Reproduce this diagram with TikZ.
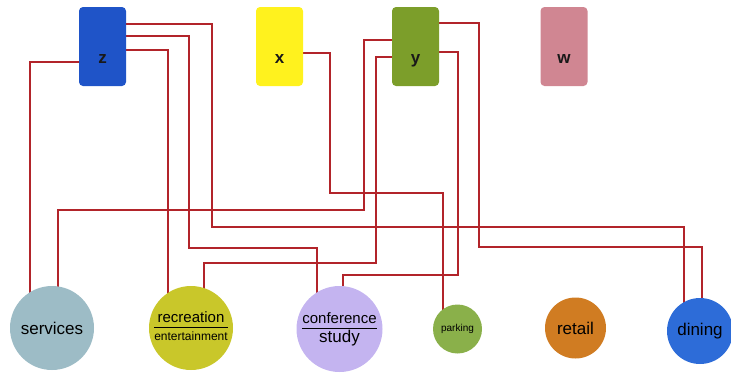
\documentclass[tikz,border=0pt]{standalone}
\usepackage{fontspec}
\setmainfont{Liberation Sans}
\usetikzlibrary{calc}
\pgfdeclarelayer{bg}
\pgfsetlayers{bg,main}

\definecolor{zblue}{RGB}{31,84,200}
\definecolor{xyellow}{RGB}{255,242,30}
\definecolor{ygreen}{RGB}{124,158,42}
\definecolor{wpink}{RGB}{208,134,146}
\definecolor{servgray}{RGB}{157,188,198}
\definecolor{recyellow}{RGB}{201,199,42}
\definecolor{conflilac}{RGB}{196,180,240}
\definecolor{parkgreen}{RGB}{138,176,74}
\definecolor{retailorange}{RGB}{208,124,34}
\definecolor{diningblue}{RGB}{45,108,216}
\definecolor{wirered}{RGB}{178,36,42}
\newcommand\fs[1]{\fontsize{#1}{#1}\selectfont}

\begin{document}
\begin{tikzpicture}[x=1pt,y=-1pt,
  box/.style={rounded corners=4pt,minimum width=47pt,minimum height=79pt,inner sep=0pt,
    font=\fs{17}\bfseries,text=black!90,text height=33pt,text depth=0pt},
  spot/.style={circle,inner sep=0pt,font=\fs{17},text=black},
  wire/.style={wirered,line width=1.5pt}]

\useasboundingbox (0,0) rectangle (731,373);

\node[box,fill=zblue] (z) at (102.5,46.5) {z};
\node[box,fill=xyellow] (x) at (279.5,46.5) {x};
\node[box,fill=ygreen] (y) at (415.5,46.5) {y};
\node[box,fill=wpink] (w) at (564,46.5) {w};

\node[spot,fill=servgray,minimum size=84pt] (services) at (52,328) {services};
\node[spot,fill=recyellow,minimum size=84pt] (recreation) at (191,328)
  {\renewcommand\arraystretch{1.05}\setlength\arrayrulewidth{1.2pt}\begin{tabular}{@{}c@{}}\fs{15}recreation\\[-1pt]\hline\fs{12}entertainment\end{tabular}};
\node[spot,fill=conflilac,minimum size=86pt] (conference) at (339.5,329)
  {\renewcommand\arraystretch{1.15}\setlength\arrayrulewidth{1.2pt}\begin{tabular}{@{}c@{}}\fs{15}conference\\[-1pt]\hline\fs{17}study\end{tabular}};
\node[spot,fill=parkgreen,minimum size=49pt,font=\fs{10}] (parking) at (457.5,329) {parking};
\node[spot,fill=retailorange,minimum size=61pt] (retail) at (575.5,328) {retail};
\node[spot,fill=diningblue,minimum size=66pt] (dining) at (700,331) {dining};

\begin{pgfonlayer}{bg}
% from z
\draw[wire] (z.west |- 0,62) -| ([xshift=-22pt]services.center);
\draw[wire] (z.east |- 0,24) -| (212,227) -| ([xshift=-16pt]dining.center);
\draw[wire] (z.east |- 0,36) -| (189,248) -| ([xshift=-22.5pt]conference.center);
\draw[wire] (z.east |- 0,50) -| ([xshift=-23pt]recreation.center);
% from x
\draw[wire] (x.east |- 0,53) -| (330,193) -| ([xshift=-14.5pt]parking.center);
% from y
\draw[wire] (y.west |- 0,40) -| (364,210) -| ([xshift=6pt]services.center);
\draw[wire] (y.west |- 0,57) -| (376,263) -| ([xshift=13pt]recreation.center);
\draw[wire] (y.east |- 0,52) -| (458,275) -| ([xshift=3.5pt]conference.center);
\draw[wire] (y.east |- 0,23) -| (479,247) -| ([xshift=2pt]dining.center);
\end{pgfonlayer}

\end{tikzpicture}
\end{document}
